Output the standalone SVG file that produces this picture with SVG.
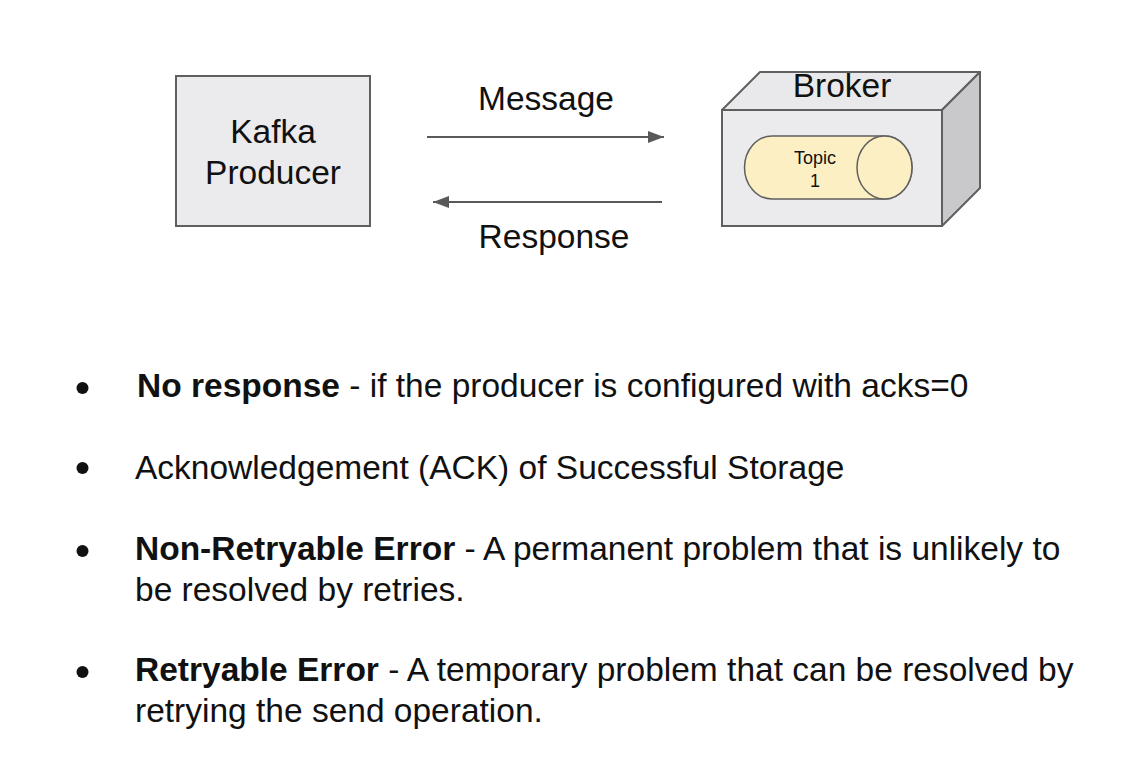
<svg xmlns="http://www.w3.org/2000/svg" width="1128" height="776" viewBox="0 0 1128 776">
<style>
  text { font-family: "Liberation Sans", Arial, sans-serif; fill: #111; }
  .lbl { font-size: 33.5px; }
  .bul { font-size: 33.5px; }
  .b { font-weight: bold; }
  .small { font-size: 18px; }
  .box { fill: #ebebed; stroke: #5f5f5f; stroke-width: 2; }
  .conn { stroke: #595959; stroke-width: 2; fill: none; }
  .dot { fill: #111; }
</style>
<defs>
  <marker id="ah" viewBox="0 0 16 12" refX="16" refY="6" markerWidth="16" markerHeight="12" markerUnits="userSpaceOnUse" orient="auto">
    <path d="M0,0 L16,6 L0,12 Z" fill="#595959"/>
  </marker>
</defs>
<rect width="1128" height="776" fill="#ffffff"/>

<g id="producer">
  <rect class="box" x="176" y="76" width="194" height="150"/>
  <text class="lbl" x="273" y="143" text-anchor="middle">Kafka</text>
  <text class="lbl" x="273" y="184" text-anchor="middle">Producer</text>
</g>

<g id="broker">
  <polygon points="722,110 760,72 980,72 942,110" fill="#e9e9eb" stroke="#5f5f5f" stroke-width="2" stroke-linejoin="round"/>
  <polygon points="942,110 980,72 980,188 942,226" fill="#c9c9cb" stroke="#5f5f5f" stroke-width="2" stroke-linejoin="round"/>
  <rect class="box" x="722" y="110" width="220" height="116"/>
  <text class="lbl" x="842" y="97" text-anchor="middle">Broker</text>
  <g id="topic">
    <path d="M772,136 L884.5,136 A27.5,31.5 0 0 1 884.5,199 L772,199 A27.5,31.5 0 0 1 772,136 Z" fill="#fcefc4" stroke="#5f5f5f" stroke-width="1.5"/>
    <ellipse cx="884.5" cy="167.5" rx="27.5" ry="31.5" fill="#fcefc4" stroke="#5f5f5f" stroke-width="1.5"/>
    <text class="small" x="815" y="164" text-anchor="middle">Topic</text>
    <text class="small" x="815" y="187" text-anchor="middle">1</text>
  </g>
</g>

<g id="connectors">
  <line class="conn" x1="427" y1="137" x2="664" y2="137" marker-end="url(#ah)"/>
  <line class="conn" x1="662" y1="202" x2="433" y2="202" marker-end="url(#ah)"/>
  <text class="lbl" x="546" y="110" text-anchor="middle">Message</text>
  <text class="lbl" x="554" y="248" text-anchor="middle">Response</text>
</g>

<g id="bullets">
  <circle class="dot" cx="82.5" cy="388" r="6"/>
  <text class="bul" x="137" y="397"><tspan class="b">No response</tspan> - if the producer is configured with acks=0</text>

  <circle class="dot" cx="82.5" cy="468" r="6"/>
  <text class="bul" x="135" y="479">Acknowledgement (ACK) of Successful Storage</text>

  <circle class="dot" cx="82.5" cy="551" r="6"/>
  <text class="bul" x="135" y="560"><tspan class="b">Non-Retryable Error</tspan> - A permanent problem that is unlikely to</text>
  <text class="bul" x="135" y="601">be resolved by retries.</text>

  <circle class="dot" cx="82.5" cy="672" r="6"/>
  <text class="bul" x="135" y="681"><tspan class="b">Retryable Error</tspan> - A temporary problem that can be resolved by</text>
  <text class="bul" x="135" y="722">retrying the send operation.</text>
</g>
</svg>
